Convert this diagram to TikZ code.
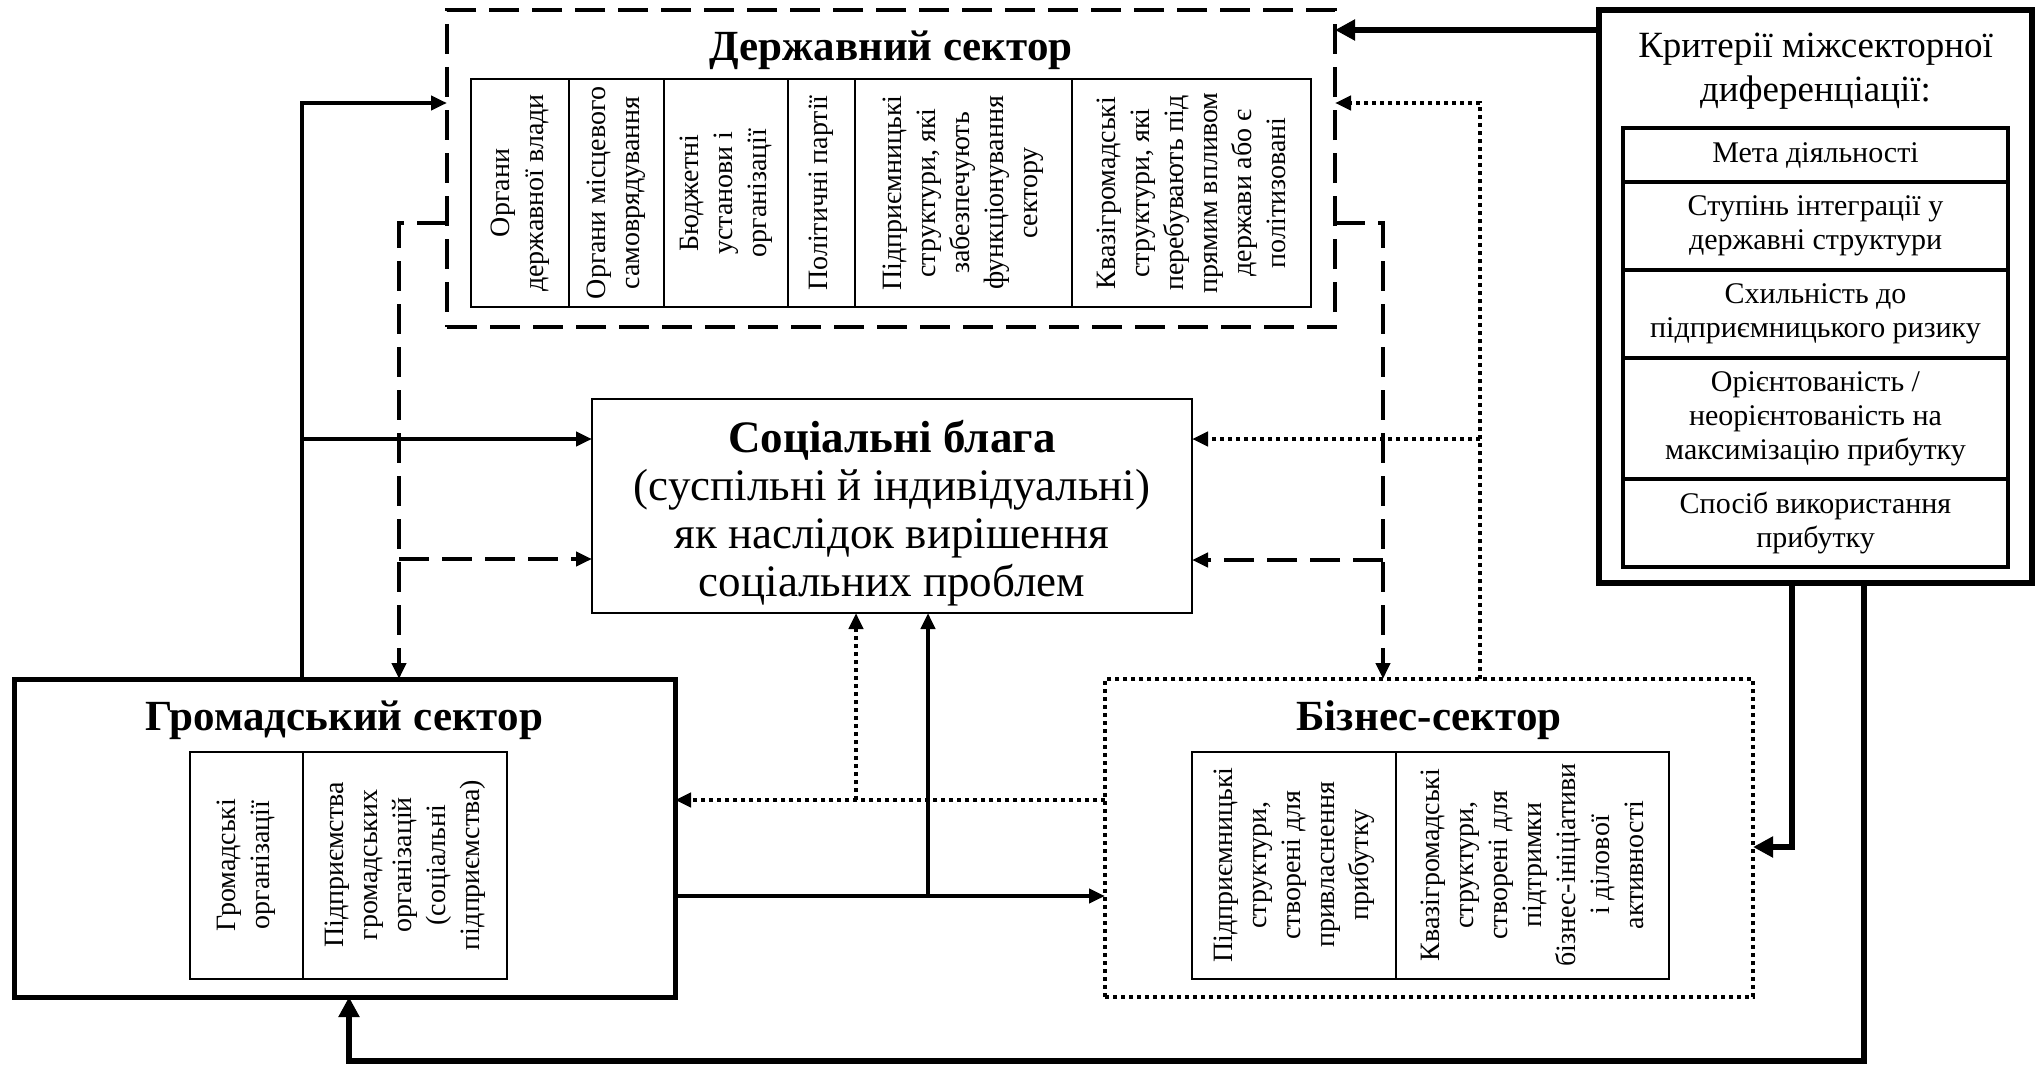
\documentclass[tikz,border=0pt]{standalone}
\usepackage{fontspec}
\setmainfont{Liberation Serif}
\usetikzlibrary{arrows.meta}
\begin{document}
\begin{tikzpicture}[x=1pt,y=-1pt,
  thinbox/.style={draw, line width=2pt, inner sep=0pt, outer sep=0pt},
  boxnode/.style={inner sep=0pt, outer sep=0pt},
  solidln/.style={line width=4pt},
  thickln/.style={line width=6pt},
  dashln/.style={line width=4pt, dash pattern=on 30pt off 13pt},
  dotln/.style={line width=4pt, dash pattern=on 4pt off 4pt},
  arr/.style={-{Triangle[length=16pt,width=14pt]}},
  bigarr/.style={-{Triangle[length=20pt,width=20pt]}},
  ttl/.style={font=\fontsize{43}{48}\selectfont\bfseries, inner sep=0pt},
  rot/.style={rotate=90, align=center, font=\fontsize{28}{34}\selectfont, inner sep=0pt},
  crow/.style={align=center, font=\fontsize{30}{34}\selectfont, inner sep=0pt},
]
\useasboundingbox (0,0) rectangle (2040,1065);

% ---------- boxes ----------
\node[boxnode, draw, dashln, minimum width=888pt, minimum height=317pt] (gov) at (891,168.5) {};
\node[thinbox, minimum width=840pt, minimum height=228pt] (govtab) at (891,193) {};
\foreach \x in {569,664,788,855,1072} \draw[line width=2pt] (\x,79) -- (\x,307);

\node[thinbox, minimum width=600pt, minimum height=214pt] (soc) at (892,506) {};

\node[boxnode, draw, line width=5pt, minimum width=661pt, minimum height=318pt] (civ) at (344.5,838) {};
\node[thinbox, minimum width=317pt, minimum height=227pt] (civtab) at (348.5,865.5) {};
\draw[line width=2pt] (303,752) -- (303,979);

\node[boxnode, draw, dotln, minimum width=648pt, minimum height=318pt] (bus) at (1429,838) {};
\node[thinbox, line width=2.5pt, minimum width=477pt, minimum height=227pt] (bustab) at (1430.5,865.5) {};
\draw[line width=2.5pt] (1396,752) -- (1396,979);

\node[boxnode, draw, line width=6pt, minimum width=433pt, minimum height=573pt] (crit) at (1815.5,296.5) {};
\node[boxnode, draw, line width=4.5pt, minimum width=385pt, minimum height=439pt] (crittab) at (1815.5,347.5) {};
\foreach \y in {182,270,358,479} \draw[line width=4.5pt] (1623,\y) -- (2008,\y);

% ---------- titles ----------
\node[ttl] (govt) at (891,50) {Державний сектор};
\node[ttl] (civt) at (344,720) {Громадський сектор};
\node[ttl] (bust) at (1429,720) {Бізнес-сектор};
\node[align=center, font=\fontsize{37}{44}\selectfont, inner sep=0pt] (critt) at (1815.5,71) {Критерії міжсекторної\\диференціації:};
\node[align=center, font=\fontsize{45}{48}\selectfont, inner sep=0pt] (soct) at (892,513) {\textbf{Соціальні блага}\\(суспільні й індивідуальні)\\як наслідок вирішення\\соціальних проблем};

% ---------- table texts ----------
\node[rot] (g1) at (520,193) {Органи\\державної влади};
\node[rot] (g2) at (616.5,193) {Органи місцевого\\самоврядування};
\node[rot] (g3) at (726,193) {Бюджетні\\установи і\\організації};
\node[rot] (g4) at (821.5,193) {Політичні партії};
\node[rot] (g5) at (963.5,193) {Підприємницькі\\структури, які\\забезпечують\\функціонування\\сектору};
\node[rot] (g6) at (1191.5,193) {Квазігромадські\\структури, які\\перебувають під\\прямим впливом\\держави або є\\політизовані};

\node[rot] (c1) at (246.5,865) {Громадські\\організації};
\node[rot] (c2) at (405,865) {Підприємства\\громадських\\організацій\\(соціальні\\підприємства)};

\node[rot] (b1) at (1294,865) {Підприємницькі\\структури,\\створені для\\привласнення\\прибутку};
\node[rot] (b2) at (1532.5,865) {Квазігромадські\\структури,\\створені для\\підтримки\\бізнес-ініціативи\\і ділової\\активності};

\node[crow] (k1) at (1815.5,155) {Мета діяльності};
\node[crow] (k2) at (1815.5,226) {Ступінь інтеграції у\\державні структури};
\node[crow] (k3) at (1815.5,314) {Схильність до\\підприємницького ризику};
\node[crow] (k4) at (1815.5,418.5) {Орієнтованість /\\неорієнтованість на\\максимізацію прибутку};
\node[crow] (k5) at (1815.5,523) {Спосіб використання\\прибутку};

% ---------- helper coordinates ----------
\coordinate (tA) at (1000,30);
\coordinate (lv) at (302,103);
\coordinate (ls) at (302,439);
\coordinate (ld) at (399,223);
\coordinate (ldb) at (399,559);
\coordinate (rd) at (1383,223);
\coordinate (rdb) at (1383,560);
\coordinate (rv) at (1480,103);
\coordinate (rvb) at (1480,439);
\coordinate (bd) at (856,800);
\coordinate (bs) at (928,896);
\coordinate (ta) at (1792,847);
\coordinate (tb) at (1864,1061);
\coordinate (tbl) at (349,1061);

% ---------- connectors ----------
\draw[thickln, bigarr] (crit.west |- tA) -- (gov.east |- tA);
\draw[thickln, bigarr] (crit.south -| ta) -- (ta) -- (bus.east |- ta);
\draw[thickln, bigarr] (crit.south -| tb) -- (tb) -- (tbl) -- (civ.south -| tbl);

\draw[solidln, arr] (civ.north -| lv) -- (lv) -- (gov.west |- lv);
\draw[solidln, arr] (ls) -- (soc.west |- ls);

\draw[dashln, arr] (gov.west |- ld) -- (ld) -- (civ.north -| ld);
\draw[dashln, arr] (ldb) -- (soc.west |- ldb);
\draw[dashln, arr] (gov.east |- rd) -- (rd) -- (bus.north -| rd);
\draw[dashln, arr] (rdb) -- (soc.east |- rdb);

\draw[dotln, arr] (bus.north -| rv) -- (rv) -- (gov.east |- rv);
\draw[dotln, arr] (rvb) -- (soc.east |- rvb);
\draw[dotln, arr] (bus.west |- bd) -- (civ.east |- bd);
\draw[dotln, arr] (bd) -- (soc.south -| bd);

\draw[solidln, arr] (civ.east |- bs) -- (bus.west |- bs);
\draw[solidln, arr] (bs) -- (soc.south -| bs);
\end{tikzpicture}
\end{document}
